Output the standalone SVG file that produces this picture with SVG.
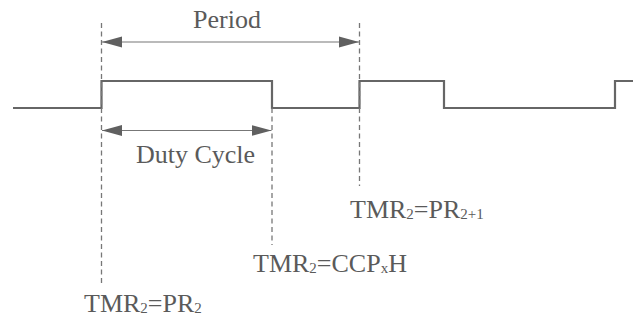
<svg xmlns="http://www.w3.org/2000/svg" width="633" height="324" viewBox="0 0 633 324">
<style>
text{font-family:"Liberation Serif","Times New Roman",serif;font-size:26px;fill:#5a5a5a}
.sub{font-size:15px}
.wave{fill:none;stroke:#666;stroke-width:2.2}
.dash{fill:none;stroke:#777;stroke-width:1.3;stroke-dasharray:5 3.5}
.arr{fill:none;stroke:#777;stroke-width:1.2;marker-start:url(#ah);marker-end:url(#ah)}
</style>
<defs>
<marker id="ah" viewBox="0 0 20 12" refX="20" refY="6" markerWidth="20" markerHeight="12" markerUnits="userSpaceOnUse" orient="auto-start-reverse">
<path d="M0,0.5 L20,6 L0,11.5 Z" fill="#606060"/>
</marker>
</defs>
<rect width="633" height="324" fill="#fff"/>
<g id="waveform">
<path class="wave" d="M13,108 H101.5 V81 H272 V108 H359.5 V81 H444 V108 H615 V81 H633"/>
</g>
<g id="connectors">
<line class="dash" x1="101.5" y1="23" x2="101.5" y2="284"/>
<line class="dash" x1="272" y1="108" x2="272" y2="245"/>
<line class="dash" x1="359.5" y1="23" x2="359.5" y2="186"/>
<line class="arr" x1="102" y1="42" x2="359" y2="42"/>
<line class="arr" x1="102" y1="130.5" x2="271.5" y2="130.5"/>
</g>
<g id="label-period"><text x="227" y="28" text-anchor="middle">Period</text></g>
<g id="label-duty"><text x="195.5" y="163" text-anchor="middle">Duty Cycle</text></g>
<g id="label-pr2plus1"><text x="350" y="218">TMR<tspan class="sub" dy="1">2</tspan><tspan dy="-1">=PR</tspan><tspan class="sub" dy="1">2+1</tspan></text></g>
<g id="label-ccpxh"><text x="253" y="272">TMR<tspan class="sub" dy="1">2</tspan><tspan dy="-1">=CCP</tspan><tspan class="sub" dy="1">x</tspan><tspan dy="-1">H</tspan></text></g>
<g id="label-pr2"><text x="84" y="312">TMR<tspan class="sub" dy="1">2</tspan><tspan dy="-1">=PR</tspan><tspan class="sub" dy="1">2</tspan></text></g>
</svg>
